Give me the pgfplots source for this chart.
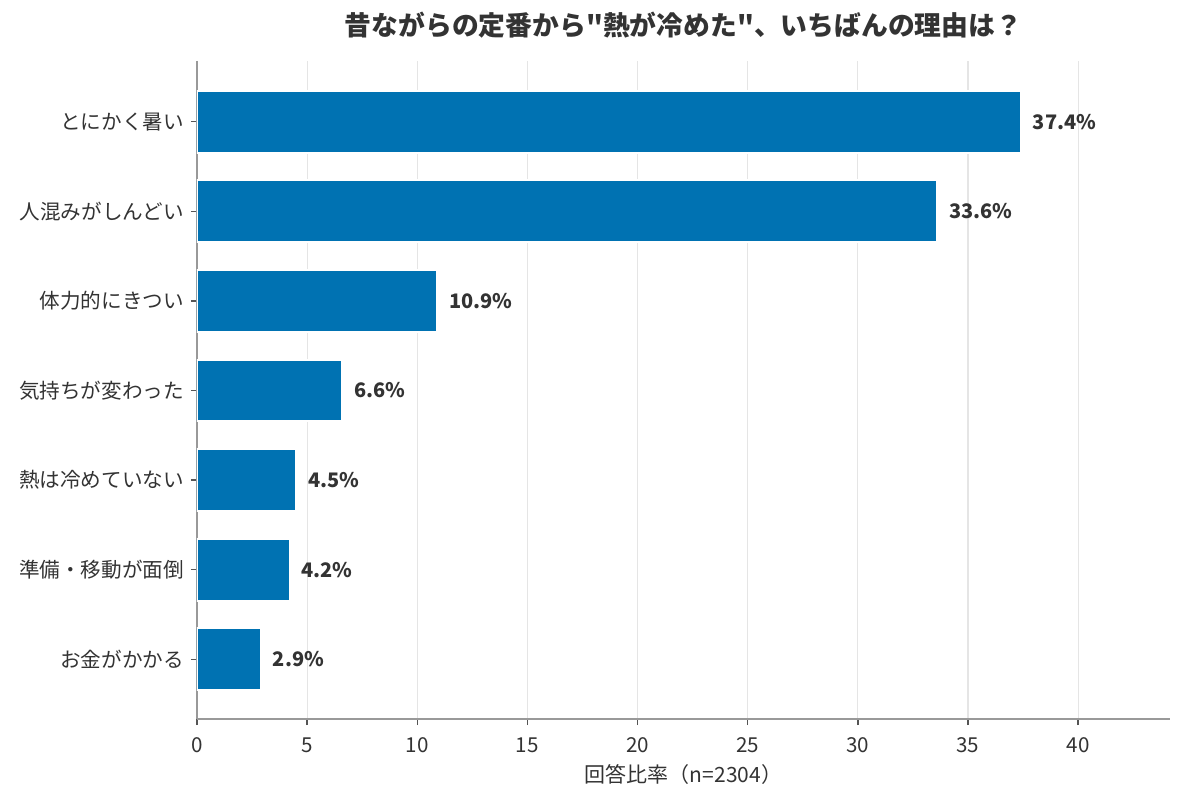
\documentclass[border=0pt]{standalone}
\usepackage{pgfplots}
\pgfplotsset{compat=1.18}
\usepackage{fontspec}
\setmainfont{Noto Sans CJK JP}[Ligatures=TeXOff]
\definecolor{barblue}{HTML}{0072B2}
\definecolor{txt}{HTML}{333333}
\definecolor{spine}{HTML}{999999}
\definecolor{tickc}{HTML}{555555}
\definecolor{gridc}{HTML}{E5E5E5}
\pgfplotstableread{
y x
0 37.4
1 33.6
2 10.9
3 6.6
4 4.5
5 4.2
6 2.9
}\mydata
\begin{document}
\begin{tikzpicture}
\begin{axis}[
  at={(0,0)}, anchor=south west,
  scale only axis, width=486.5pt, height=329pt,
  xbar, bar width=0.69,
  xmin=0, xmax=44.17,
  ymin=-0.678, ymax=6.667,
  y dir=reverse,
  ytick={0,...,6},
  yticklabels={とにかく暑い,人混みがしんどい,体力的にきつい,気持ちが変わった,熱は冷めていない,準備・移動が面倒,お金がかかる},
  xtick={0,5,...,40},
  axis x line*=bottom, axis y line*=left,
  axis line style={spine, line width=0.7pt},
  tick align=outside, major tick length=3pt,
  tick style={tickc, line width=0.7pt},
  xmajorgrids, major grid style={gridc, line width=0.6pt},
  /pgf/number format/assume math mode=true,
  ticklabel style={font=\fontsize{10.3}{12}\selectfont, color=txt},
  xticklabel style={anchor=base, inner sep=0pt, yshift=-13.5pt},
  xlabel={回答比率（n=2304）},
  xlabel style={at={(axis description cs:0.5,0)}, anchor=center, yshift=-28pt, font=\fontsize{10.5}{12}\selectfont, color=txt},
  title={昔ながらの定番から"熱が冷めた"、いちばんの理由は？},
  title style={at={(axis description cs:0.5,1)}, anchor=center, yshift=12pt, font=\bfseries\fontsize{13.4}{15}\selectfont, color=txt},
  nodes near coords={\pgfmathprintnumber[fixed,precision=1,zerofill]{\pgfplotspointmeta}\%},
  nodes near coords style={font=\bfseries\fontsize{10}{12}\selectfont, color=txt, anchor=west, inner sep=0pt, xshift=5.5pt},
]
\addplot[fill=barblue, draw=white, line width=1pt] table[x=x, y=y] {\mydata};
\end{axis}
\pgfresetboundingbox
\useasboundingbox (-98.5pt,-41.5pt) rectangle (494pt,359.5pt);
\end{tikzpicture}
\end{document}
